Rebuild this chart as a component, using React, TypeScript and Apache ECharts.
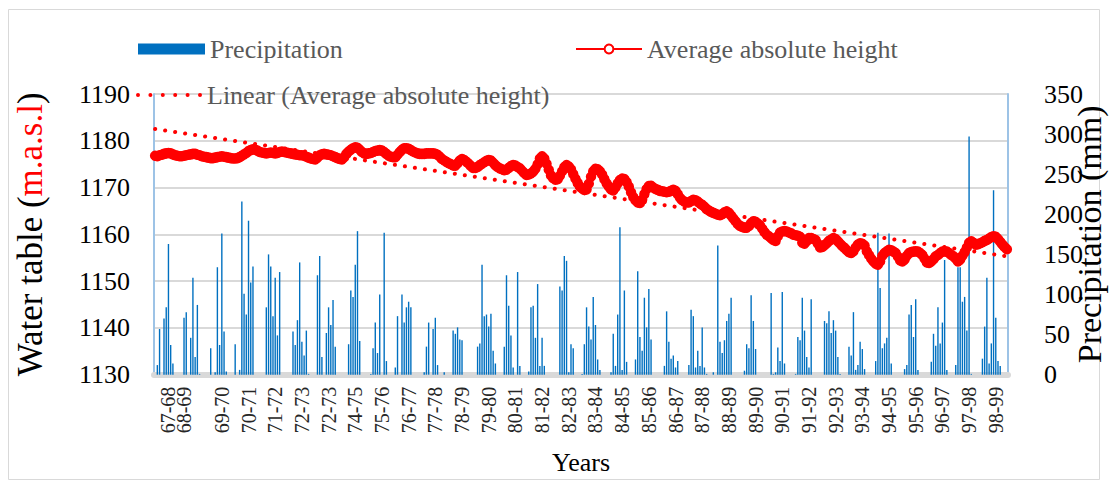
import React, { useEffect, useRef } from "react";
import * as echarts from "echarts";

// Hydrological years as printed under the axis (one label per year)
const yearLabels = [
  "67-68", "68-69", "69-70", "70-71", "71-72", "72-73", "72-73", "74-75",
  "75-76", "76-77", "77-78", "78-79", "79-80", "80-81", "81-82", "82-83",
  "83-84", "84-85", "85-86", "86-87", "87-88", "88-89", "89-90", "90-91",
  "91-92", "92-93", "93-94", "94-95", "95-96", "96-97", "97-98", "98-99",
];

// Monthly precipitation (mm), twelve months per hydrological year
const precipitation = [
  0, 12, 57, 0, 70, 84, 163, 37, 14, 0, 0, 0, // 67-68
  0, 71, 78, 0, 46, 121, 22, 87, 1, 0, 0, 0, // 68-69
  0, 33, 0, 3, 134, 37, 176, 54, 4, 0, 0, 0, // 69-70
  38, 0, 6, 216, 101, 75, 192, 115, 135, 0, 0, 0, // 70-71
  0, 0, 84, 150, 135, 73, 121, 49, 128, 0, 0, 0, // 71-72
  0, 0, 54, 37, 68, 140, 41, 24, 55, 1, 0, 0, // 72-73
  0, 124, 148, 22, 0, 52, 84, 62, 93, 35, 0, 0, // 73-74
  0, 0, 0, 38, 105, 97, 137, 179, 42, 0, 0, 0, // 74-75
  0, 1, 33, 65, 27, 100, 0, 177, 17, 0, 0, 0, // 75-76
  9, 73, 0, 100, 65, 84, 91, 84, 0, 0, 0, 0, // 76-77
  0, 3, 35, 65, 0, 57, 71, 12, 0, 0, 3, 0, // 77-78
  0, 0, 55, 51, 59, 44, 43, 0, 0, 0, 0, 0, // 78-79
  0, 35, 39, 137, 73, 75, 60, 76, 30, 14, 0, 0, // 79-80
  0, 35, 124, 86, 49, 9, 0, 128, 11, 0, 0, 0, // 80-81
  4, 84, 86, 46, 113, 11, 46, 11, 0, 0, 0, 0, // 81-82
  0, 0, 110, 105, 148, 142, 3, 38, 33, 0, 0, 0, // 82-83
  1, 38, 84, 60, 44, 97, 62, 19, 6, 0, 0, 0, // 83-84
  0, 3, 51, 11, 75, 184, 6, 105, 16, 0, 0, 0, // 84-85
  19, 129, 47, 30, 96, 59, 107, 44, 0, 0, 0, 0, // 85-86
  0, 11, 79, 41, 20, 24, 9, 17, 0, 0, 0, 0, // 86-87
  12, 81, 73, 9, 30, 11, 59, 9, 1, 0, 0, 3, // 87-88
  0, 161, 41, 27, 43, 67, 76, 96, 0, 0, 0, 0, // 88-89
  0, 5, 38, 33, 99, 67, 32, 0, 0, 0, 0, 0, // 89-90
  0, 102, 1, 3, 34, 17, 103, 14, 0, 0, 0, 0, // 90-91
  1, 47, 43, 96, 55, 22, 9, 94, 0, 0, 0, 0, // 91-92
  0, 67, 64, 79, 52, 68, 55, 22, 1, 0, 0, 0, // 92-93
  35, 24, 78, 6, 12, 41, 32, 7, 0, 0, 0, 0, // 93-94
  17, 177, 108, 33, 39, 46, 176, 14, 0, 0, 0, 0, // 94-95
  0, 7, 12, 75, 87, 47, 94, 6, 0, 0, 0, 0, // 95-96
  0, 16, 51, 36, 84, 39, 65, 143, 6, 0, 0, 0, // 96-97
  12, 134, 134, 91, 97, 55, 297, 1, 0, 0, 0, 0, // 97-98
  20, 60, 121, 14, 39, 230, 71, 17, 11, 0, 0, 0, // 98-99
];

// Monthly average absolute height of the water table (m.a.s.l)
const averageHeight = [
  1176.8, 1176.7, 1176.9, 1177.0, 1177.2, 1177.3, 1177.4, 1177.3, 1177.1, 1176.9, 1176.8, 1176.7,
  1176.7, 1176.8, 1176.9, 1177.0, 1177.1, 1177.2, 1177.2, 1177.0, 1176.9, 1176.7, 1176.6, 1176.5,
  1176.4, 1176.3, 1176.3, 1176.4, 1176.5, 1176.6, 1176.7, 1176.6, 1176.5, 1176.4, 1176.3, 1176.2,
  1176.2, 1176.3, 1176.5, 1176.8, 1177.1, 1177.4, 1177.8, 1178.0, 1178.2, 1178.1, 1177.9, 1177.6,
  1177.5, 1177.4, 1177.3, 1177.4, 1177.5, 1177.4, 1177.3, 1177.4, 1177.6, 1177.7, 1177.6, 1177.5,
  1177.4, 1177.3, 1177.2, 1177.1, 1177.0, 1176.9, 1176.9, 1176.8, 1176.6, 1176.4, 1176.2, 1176.1,
  1176.0, 1176.4, 1176.9, 1177.1, 1177.2, 1177.1, 1177.0, 1176.9, 1176.7, 1176.5, 1176.3, 1176.1,
  1176.0, 1176.5, 1177.2, 1177.7, 1178.1, 1178.4, 1178.6, 1178.5, 1178.1, 1177.6, 1177.3, 1177.2,
  1177.3, 1177.4, 1177.6, 1177.8, 1177.9, 1178.0, 1177.9, 1177.6, 1177.2, 1176.8, 1176.6, 1176.5,
  1176.5, 1177.0, 1177.6, 1178.1, 1178.4, 1178.4, 1178.3, 1178.0, 1177.7, 1177.5, 1177.3, 1177.2,
  1177.2, 1177.2, 1177.3, 1177.3, 1177.3, 1177.3, 1177.2, 1177.0, 1176.6, 1176.1, 1175.8, 1175.5,
  1175.2, 1175.0, 1174.7, 1174.7, 1175.2, 1175.8, 1176.1, 1175.9, 1175.5, 1175.1, 1174.6, 1174.2,
  1174.2, 1174.4, 1174.8, 1175.1, 1175.4, 1175.7, 1175.9, 1175.8, 1175.3, 1174.8, 1174.4, 1174.1,
  1173.9, 1173.7, 1173.8, 1174.2, 1174.6, 1174.8, 1174.7, 1174.4, 1174.1, 1173.6, 1173.1, 1172.7,
  1172.8, 1173.0, 1173.4, 1174.0, 1175.0, 1176.2, 1176.7, 1176.2, 1175.1, 1173.8, 1172.6, 1172.0,
  1171.7, 1171.8, 1172.5, 1173.5, 1174.4, 1174.8, 1174.5, 1173.9, 1172.9, 1171.9, 1171.0, 1170.2,
  1169.8, 1169.5, 1169.6, 1170.8, 1172.3, 1173.5, 1174.0, 1173.9, 1173.5, 1172.8, 1171.8, 1170.9,
  1170.2, 1169.6, 1169.4, 1170.0, 1170.9, 1171.6, 1171.9, 1171.8, 1171.2, 1170.2, 1169.0, 1168.0,
  1167.3, 1166.8, 1166.7, 1167.4, 1168.6, 1169.7, 1170.3, 1170.4, 1170.0, 1169.7, 1169.5, 1169.3,
  1169.2, 1169.1, 1169.0, 1169.1, 1169.3, 1169.5, 1169.3, 1168.6, 1167.8, 1167.3, 1167.0, 1166.8,
  1166.8, 1167.1, 1167.4, 1167.3, 1167.0, 1166.6, 1166.3, 1165.9, 1165.4, 1165.1, 1164.8, 1164.6,
  1164.4, 1164.2, 1164.1, 1164.3, 1164.7, 1164.9, 1164.6, 1164.0, 1163.4, 1162.8, 1162.2, 1161.8,
  1161.6, 1161.4, 1161.4, 1161.8, 1162.4, 1162.8, 1162.7, 1162.3, 1161.9, 1161.2, 1160.5, 1159.9,
  1159.6, 1159.2, 1158.8, 1158.6, 1159.6, 1160.4, 1160.6, 1160.7, 1160.6, 1160.4, 1160.2, 1159.9,
  1159.8, 1159.7, 1159.5, 1158.2, 1158.0, 1158.6, 1159.2, 1159.2, 1159.0, 1158.8, 1158.0, 1157.2,
  1157.3, 1157.7, 1158.1, 1158.6, 1158.9, 1159.2, 1159.0, 1158.5, 1158.0, 1157.5, 1157.1, 1156.6,
  1156.2, 1156.0, 1156.4, 1157.2, 1157.8, 1158.1, 1158.0, 1157.6, 1156.4, 1155.6, 1154.8, 1154.2,
  1153.7, 1153.5, 1154.2, 1155.4, 1156.0, 1156.4, 1156.7, 1156.6, 1156.3, 1156.0, 1155.2, 1154.4,
  1154.2, 1154.6, 1155.4, 1156.0, 1156.2, 1156.3, 1156.4, 1156.3, 1156.0, 1155.6, 1154.8, 1154.0,
  1153.9, 1154.2, 1154.7, 1155.3, 1155.6, 1156.0, 1156.3, 1156.4, 1156.3, 1156.0, 1155.6, 1155.3,
  1154.8, 1154.2, 1154.6, 1155.4, 1156.2, 1157.2, 1158.2, 1158.5, 1158.2, 1157.8, 1157.9, 1158.1,
  1158.3, 1158.6, 1158.8, 1159.1, 1159.4, 1159.6, 1159.5, 1159.0, 1158.4, 1157.8, 1157.3, 1156.8,
];

// Tick labels of the two value axes
const heightTicks = [1130, 1140, 1150, 1160, 1170, 1180, 1190];
const precipitationTicks = [0, 50, 100, 150, 200, 250, 300, 350];

const SERIF = "Liberation Serif";

// One category per month, labelled by its hydrological year
const categories = yearLabels.flatMap((year, y) =>
  Array.from({ length: 12 }, (_, m) => `${year} #${y * 12 + m + 1}`)
);
// Year labels sit under the middle of their year; the second one is
// printed a little early, close to the first, so it gets its own axis
// (otherwise the two would be thinned out as overlapping)
const CROWDED_LABEL_SLOT = 13;
const yearLabelAt = new Map<number, string>(
  yearLabels.map((label, y) => [y === 1 ? CROWDED_LABEL_SLOT : y * 12 + 6, label])
);

// Round-dot legend icon for the trend line
const dotIcon =
  "path://" +
  [0, 1, 2, 3, 4, 5]
    .map((k) => {
      const cx = 2 + k * 12.4;
      return `M${cx - 2},2 a2,2 0 1,0 4,0 a2,2 0 1,0 -4,0 Z`;
    })
    .join(" ");

// Least-squares linear trend of the water table
function linearTrend(values: number[]): number[] {
  const n = values.length;
  let sx = 0, sy = 0, sxy = 0, sxx = 0;
  values.forEach((v, i) => {
    sx += i; sy += v; sxy += i * v; sxx += i * i;
  });
  const slope = (n * sxy - sx * sy) / (n * sxx - sx * sx);
  const intercept = (sy - slope * sx) / n;
  return values.map((_, i) => +(intercept + slope * i).toFixed(3));
}

export default function App() {
  const ref = useRef<HTMLDivElement>(null);

  useEffect(() => {
    if (!ref.current) return;
    const chart = echarts.init(ref.current, undefined, { renderer: "svg" });
    const trend = linearTrend(averageHeight);
    const legendText = { fontFamily: SERIF, fontSize: 26, color: "#595959" };
    const yearLabelStyle = {
      formatter: (_v: string, index: number) => yearLabelAt.get(index) ?? "",
      showMinLabel: true,
      showMaxLabel: true,
      rotate: 90,
      margin: 9,
      fontFamily: SERIF,
      fontSize: 20,
      color: "#262626",
    };

    chart.setOption({
      animation: false,
      backgroundColor: "#ffffff",
      textStyle: { fontFamily: SERIF },
      graphic: [
        {
          type: "rect",
          shape: { x: 8.5, y: 9.5, width: 1091, height: 470 },
          style: { fill: "none", stroke: "#d9d9d9", lineWidth: 1 },
          silent: true,
        },
      ],
      legend: [
        {
          data: ["Precipitation"],
          left: 138,
          top: 36,
          padding: 0,
          icon: "rect",
          itemWidth: 67,
          itemHeight: 11,
          textStyle: legendText,
        },
        {
          data: [
            {
              name: "Average absolute height",
              itemStyle: { color: "#ffffff", borderColor: "#ff0000", borderWidth: 2 },
            },
          ],
          left: 575,
          top: 36,
          padding: 0,
          itemWidth: 66,
          itemHeight: 11,
          textStyle: legendText,
        },
        {
          data: [{ name: "Linear (Average absolute height)", icon: dotIcon }],
          left: 136,
          top: 82,
          padding: 0,
          itemWidth: 66,
          itemHeight: 4,
          itemGap: 0,
          textStyle: legendText,
        },
      ],
      grid: {
        left: 154,
        right: 101,
        top: 94,
        bottom: 111.3,
        containLabel: false,
        outerBoundsMode: "none",
      },
      xAxis: [
        {
          type: "category",
          data: categories,
          boundaryGap: true,
          offset: 3,
          name: "Years",
          nameLocation: "middle",
          nameGap: 72,
          nameMoveOverlap: false,
          nameTextStyle: { fontFamily: SERIF, fontSize: 26, color: "#000000" },
          axisLine: { lineStyle: { color: "#d9d9d9", width: 6 } },
          axisTick: { show: false },
          splitLine: { show: false },
          axisLabel: {
            ...yearLabelStyle,
            interval: (index: number) =>
              index !== CROWDED_LABEL_SLOT && yearLabelAt.has(index),
          },
        },
        {
          type: "category",
          data: categories,
          boundaryGap: true,
          position: "bottom",
          offset: 3,
          axisLine: { show: false },
          axisTick: { show: false },
          splitLine: { show: false },
          axisLabel: {
            ...yearLabelStyle,
            interval: (index: number) => index === CROWDED_LABEL_SLOT,
          },
        },
      ],
      yAxis: [
        {
          type: "value",
          min: heightTicks[0],
          max: heightTicks[heightTicks.length - 1],
          interval: heightTicks[1] - heightTicks[0],
          name: "{k|Water table (}{r|m.a.s.l}{k|)}",
          nameLocation: "middle",
          nameGap: 106,
          nameRotate: 90,
          nameMoveOverlap: false,
          nameTextStyle: {
            fontFamily: SERIF,
            fontSize: 35,
            color: "#000000",
            rich: {
              k: { fontFamily: SERIF, fontSize: 35, color: "#000000" },
              r: { fontFamily: SERIF, fontSize: 35, color: "#ff0000" },
            },
          },
          axisLine: { show: true, lineStyle: { color: "#9dc3e6", width: 2 } },
          axisTick: { show: false },
          axisLabel: {
            fontFamily: SERIF,
            fontSize: 26,
            color: "#000000",
            margin: 24,
            formatter: (v: number) => String(v),
          },
          splitLine: { lineStyle: { color: "#d9d9d9", width: 2 } },
        },
        {
          type: "value",
          min: precipitationTicks[0],
          max: precipitationTicks[precipitationTicks.length - 1],
          interval: precipitationTicks[1] - precipitationTicks[0],
          name: "Precipitation (mm)",
          nameLocation: "middle",
          nameGap: 64,
          nameRotate: 90,
          nameMoveOverlap: false,
          nameTextStyle: { fontFamily: SERIF, fontSize: 34, color: "#000000" },
          axisLine: { show: true, lineStyle: { color: "#9dc3e6", width: 2 } },
          axisTick: { show: false },
          axisLabel: {
            fontFamily: SERIF,
            fontSize: 26,
            color: "#000000",
            margin: 36,
            formatter: (v: number) => String(v),
          },
          splitLine: { show: false },
        },
      ],
      series: [
        {
          name: "Precipitation",
          type: "bar",
          xAxisIndex: 0,
          yAxisIndex: 1,
          data: precipitation,
          barWidth: 1.4,
          itemStyle: { color: "#0070c0" },
        },
        {
          name: "Average absolute height",
          type: "line",
          xAxisIndex: 0,
          yAxisIndex: 0,
          data: averageHeight,
          symbol: "circle",
          symbolSize: 9,
          showSymbol: true,
          showAllSymbol: true,
          lineStyle: { color: "#ff0000", width: 2.5 },
          itemStyle: { color: "#ff0000", borderColor: "#ff0000", borderWidth: 1.5 },
        },
        {
          name: "Linear (Average absolute height)",
          type: "line",
          xAxisIndex: 0,
          yAxisIndex: 0,
          data: trend,
          symbol: "none",
          lineStyle: { color: "#ff0000", width: 4, type: [0.1, 10], cap: "round" },
          itemStyle: { color: "#ff0000" },
        },
      ],
    });

    return () => chart.dispose();
  }, []);

  return (
    <div
      ref={ref}
      style={{ position: "absolute", left: 0, top: 0, width: 1109, height: 486 }}
    />
  );
}
